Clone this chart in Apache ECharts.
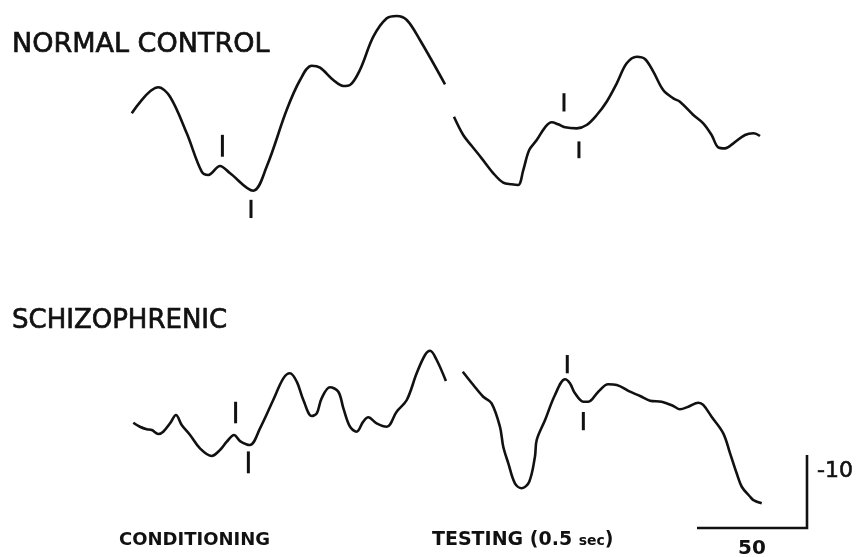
<!DOCTYPE html>
<html>
<head>
<meta charset="utf-8">
<script src="https://cdn.jsdelivr.net/npm/echarts@6/dist/echarts.min.js"></script>
<style>
html,body{margin:0;padding:0;background:#ffffff;}
#chart{width:863px;height:557px;}
</style>
</head>
<body>
<div id="chart"></div>
<script>
// ---- Data: [time (ms from sweep start), amplitude (µV, negative plotted up)] ----
const normalConditioning = [
  [0.8,-0.85],[12.9,-4.41],[18.2,-3.12],[25.8,1.89],[32.6,7.15],[35.6,7.60],[40.9,6.37],
  [45.5,7.37],[56.0,9.75],[62.1,6.47],[71.2,-1.30],[77.3,-5.41],[82.6,-7.37],[86.4,-7.10],
  [92.4,-5.41],[97.0,-4.59],[100.0,-4.73],[104.5,-6.78],[110.6,-11.34],[116.7,-13.86],
  [121.2,-14.18],[125.8,-13.63],[131.8,-10.89],[143.2,-4.82]
];
const normalTesting = [
  [0.9,-0.38],[5.1,2.12],[9.0,3.63],[13.5,5.32],[18.8,7.37],[23.3,8.66],[27.1,8.88],
  [30.1,8.97],[32.4,6.92],[35.1,4.18],[38.5,2.81],[42.3,1.07],[45.3,0.38],[48.3,0.66],
  [51.4,1.07],[56.7,1.21],[61.2,0.75],[65.8,-0.62],[70.3,-2.44],[74.9,-4.96],[79.4,-7.70],
  [84.0,-8.60],[87.7,-8.29],[91.5,-6.55],[96.0,-4.04],[100.6,-2.90],[103.6,-2.44],
  [109.7,-0.62],[114.2,0.52],[118.0,2.12],[121.0,3.81],[124.1,3.95],[127.9,3.26],
  [133.2,2.12],[137.0,1.89],[140.0,2.26]
];
const schizoConditioning = [
  [1.5,-0.93],[4.5,-0.38],[7.6,-0.03],[9.9,0.07],[12.9,0.62],[15.1,0.30],[18.2,-0.85],
  [20.9,-1.99],[23.5,-0.62],[27.3,0.75],[31.8,2.58],[37.1,3.63],[40.9,2.81],[44.0,1.67],
  [47.3,0.75],[50.0,1.58],[54.5,2.12],[59.1,-0.16],[65.1,-4.04],[69.7,-7.01],[72.7,-7.70],
  [75.8,-6.55],[78.8,-4.04],[82.6,-1.85],[84.9,-2.22],[87.1,-4.27],[90.9,-5.78],[94.7,-5.18],
  [97.0,-2.90],[100.0,-0.38],[103.0,0.30],[106.0,-1.07],[108.3,-1.67],[112.1,-0.85],
  [116.7,-0.38],[121.2,-2.44],[125.8,-4.04],[130.3,-7.70],[134.1,-10.21],[136.4,-10.79],
  [139.4,-9.52],[143.6,-6.64]
];
const schizoTesting = [
  [4.9,-7.92],[9.7,-6.10],[14.2,-4.49],[18.0,-3.59],[21.8,-0.38],[23.3,2.36],[25.6,4.63],
  [28.6,7.37],[31.7,8.05],[35.1,7.15],[37.7,3.73],[38.5,1.44],[42.3,-1.30],[46.8,-4.73],
  [51.4,-6.88],[53.6,-6.33],[55.9,-4.96],[59.7,-3.81],[62.0,-3.81],[66.5,-5.18],[71.0,-6.19],
  [74.9,-6.10],[80.9,-5.18],[85.5,-4.59],[90.0,-3.95],[95.3,-3.81],[100.6,-3.22],
  [103.6,-2.77],[107.4,-3.12],[112.0,-3.67],[114.2,-3.36],[118.0,-1.75],[123.3,0.52],
  [126.4,3.26],[129.4,6.00],[131.7,7.84],[135.5,9.21],[137.0,9.66],[140.8,10.11]
];
// Latency markers: [time ms, amplitude from, amplitude to]
const normalConditioningMarks = [[42.0,2.1,5.1],[55.0,11.0,13.5]];
const normalTestingMarks = [[50.9,-3.6,-1.1],[57.7,3.0,5.3]];
const schizoConditioningMarks = [[48.0,-3.8,-0.85],[53.8,3.0,6.0]];
const schizoTestingMarks = [[52.4,-10.2,-7.7],[59.7,-2.4,0.1]];

// Calibration bar values
const scaleTimeMs = 50;
const scaleAmpUv = -10;

// Texts
const groupLabels = ['NORMAL CONTROL','SCHIZOPHRENIC'];
const sweepLabels = ['CONDITIONING','TESTING (0.5 ','sec',')'];

// ---- Layout ----
const SWEEP_MS = 150, SWEEP_W = 330;        // 2.2 px per ms
const AMP_MIN = -15, AMP_MAX = 15, AMP_H = 219; // 7.3 px per µV
const grids = [
  {left:130, top:10,  width:SWEEP_W, height:AMP_H},
  {left:452, top:10,  width:SWEEP_W, height:AMP_H},
  {left:130, top:320, width:SWEEP_W, height:AMP_H},
  {left:452, top:320, width:SWEEP_W, height:AMP_H},
  {left:697, top:455, width:110, height:73}
];
const xAxes = grids.map((g,i)=>({gridIndex:i, type:'value', show:false,
  min:0, max: i===4 ? scaleTimeMs : SWEEP_MS}));
const yAxes = grids.map((g,i)=>({gridIndex:i, type:'value', show:false, inverse:true,
  min: i===4 ? scaleAmpUv : AMP_MIN, max: i===4 ? 0 : AMP_MAX}));

const INK = '#111111';
const waves = [normalConditioning, normalTesting, schizoConditioning, schizoTesting];
const marks = [normalConditioningMarks, normalTestingMarks, schizoConditioningMarks, schizoTestingMarks];

const series = [];
waves.forEach((w,i)=>{
  series.push({type:'line', xAxisIndex:i, yAxisIndex:i, data:w, showSymbol:false,
    smooth:0.35, clip:false, lineStyle:{color:INK, width:2.6}, silent:true});
});
marks.forEach((m,i)=>{
  m.forEach(([t,a,b])=>{
    series.push({type:'line', xAxisIndex:i, yAxisIndex:i, data:[[t,a],[t,b]],
      showSymbol:false, clip:false, lineStyle:{color:INK, width:3}, silent:true});
  });
});
series.push({type:'line', xAxisIndex:4, yAxisIndex:4,
  data:[[0,0],[scaleTimeMs,0],[scaleTimeMs,scaleAmpUv]],
  showSymbol:false, clip:false, lineStyle:{color:INK, width:2.6, join:'miter'}, silent:true});

const chart = echarts.init(document.getElementById('chart'), null, {renderer:'canvas'});
const chartTextStroke = {stroke:INK, lineWidth:0.7};
chart.setOption({
  animation:false,
  backgroundColor:'#ffffff',
  grid:grids,
  xAxis:xAxes,
  yAxis:yAxes,
  series:series,
  graphic:[
    {type:'text', x:12, y:45, style:Object.assign({text:groupLabels[0], fill:INK,
      font:'27px "DejaVu Sans"', verticalAlign:'middle', align:'left'}, chartTextStroke)},
    {type:'text', x:12, y:321, style:Object.assign({text:groupLabels[1], fill:INK,
      font:'26px "DejaVu Sans"', verticalAlign:'middle', align:'left'}, chartTextStroke)},
    {type:'text', x:119, y:540, style:{text:sweepLabels[0], fill:INK,
      font:'bold 18px "DejaVu Sans"', verticalAlign:'middle', align:'left'}},
    {type:'text', x:432, y:540, style:{
      text:'{a|'+sweepLabels[1]+'}{b|'+sweepLabels[2]+'}{a|'+sweepLabels[3]+'}',
      fill:INK, verticalAlign:'middle', align:'left',
      rich:{a:{font:'bold 19px "DejaVu Sans"', fill:INK},
            b:{font:'bold 14px "DejaVu Sans"', fill:INK, padding:[3,0,0,0]}}}},
    {type:'text', x:752, y:549, style:{text:String(scaleTimeMs), fill:INK,
      font:'bold 20px "DejaVu Sans"', verticalAlign:'middle', align:'center'}},
    {type:'text', x:817, y:471, style:Object.assign({text:String(scaleAmpUv), fill:INK,
      font:'22px "DejaVu Sans"', verticalAlign:'middle', align:'left'}, {stroke:INK, lineWidth:0.6})}
  ]
});
</script>
</body>
</html>
